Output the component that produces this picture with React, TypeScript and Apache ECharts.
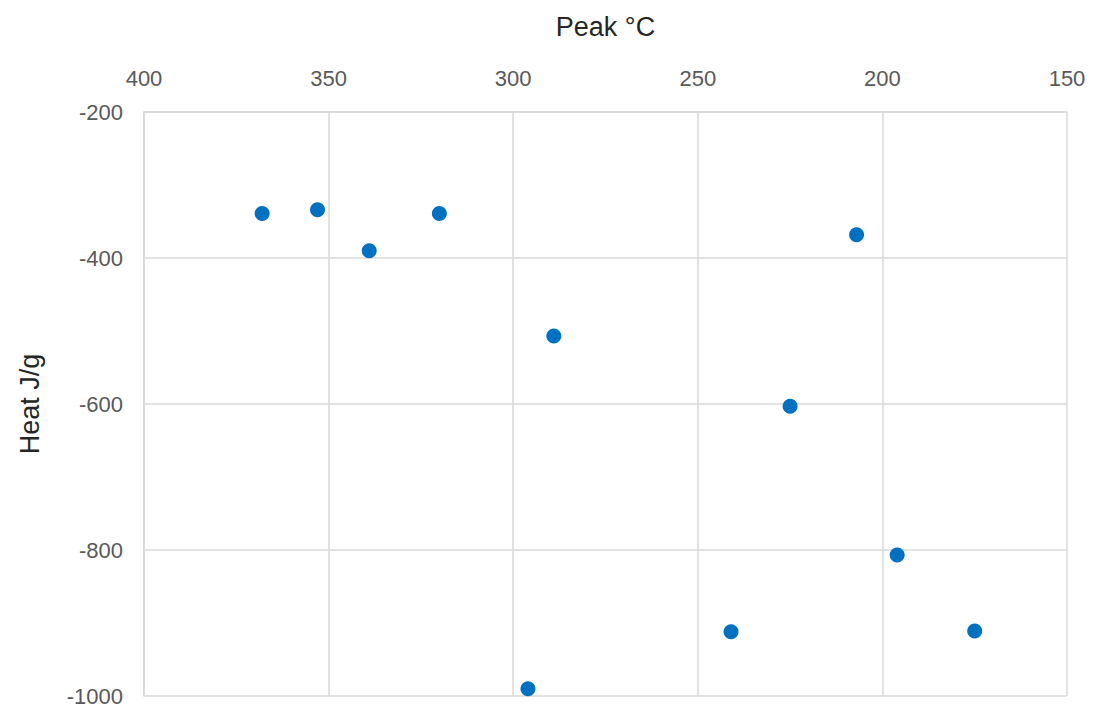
import React, { useEffect, useRef } from "react";
import * as echarts from "echarts";

// Peak temperature (°C) and heat of reaction (J/g) for each sample
const peakC = [368, 353, 339, 320, 289, 296, 241, 225, 207, 196, 175];
const heatJg = [-339, -334, -390, -339, -507, -990, -912, -603, -368, -807, -911];

const xTicks = { min: 150, max: 400, interval: 50 };
const yTicks = { min: -1000, max: -200, interval: 200 };

const gridColor = "#d9d9d9";
const labelColor = "#595959";
const titleColor = "#262626";
const font = "Liberation Sans, Arial, sans-serif";

export default function App() {
  const ref = useRef<HTMLDivElement>(null);

  useEffect(() => {
    if (!ref.current) return;
    const chart = echarts.init(ref.current, undefined, { renderer: "svg" });
    chart.setOption({
      animation: false,
      backgroundColor: "#ffffff",
      grid: { left: 144, right: 27, top: 112, bottom: 8, containLabel: false },
      xAxis: {
        type: "value",
        position: "top",
        inverse: true,
        min: xTicks.min,
        max: xTicks.max,
        interval: xTicks.interval,
        name: "Peak °C",
        nameLocation: "middle",
        nameGap: 72,
        nameTextStyle: { color: titleColor, fontSize: 27, fontFamily: font },
        axisLine: { show: true, lineStyle: { color: gridColor, width: 1.5 } },
        axisTick: { show: false },
        axisLabel: {
          color: labelColor,
          fontSize: 22,
          fontFamily: font,
          margin: 23,
          formatter: (v: number) => String(v),
        },
        splitLine: { show: true, lineStyle: { color: gridColor, width: 1.5 } },
      },
      yAxis: {
        type: "value",
        min: yTicks.min,
        max: yTicks.max,
        interval: yTicks.interval,
        name: "Heat J/g",
        nameLocation: "middle",
        nameGap: 101,
        nameTextStyle: { color: titleColor, fontSize: 27, fontFamily: font },
        axisLine: { show: true, lineStyle: { color: gridColor, width: 1.5 } },
        axisTick: { show: false },
        axisLabel: {
          color: labelColor,
          fontSize: 22,
          fontFamily: font,
          margin: 21,
          formatter: (v: number) => String(v),
        },
        splitLine: { show: true, lineStyle: { color: gridColor, width: 1.5 } },
      },
      series: [
        {
          type: "scatter",
          data: peakC.map((x, i) => [x, heatJg[i]]),
          symbol: "circle",
          symbolSize: 15,
          itemStyle: { color: "#0070c0", opacity: 1 },
        },
      ],
    });
    return () => chart.dispose();
  }, []);

  return (
    <div
      ref={ref}
      style={{ position: "absolute", left: 0, top: 0, width: 1094, height: 707 }}
    />
  );
}
